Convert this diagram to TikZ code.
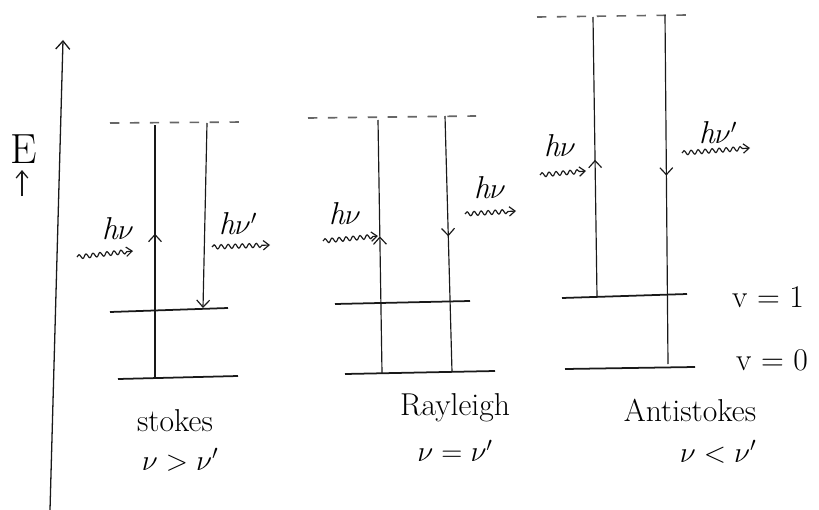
\documentclass[tikz,border=0pt]{standalone}
\usetikzlibrary{arrows.meta,decorations.pathmorphing,decorations.markings}
\begin{document}
\begin{tikzpicture}[x=0.03cm,y=-0.03cm,
  ink/.style={draw=black!90},
  level/.style={ink,line width=1.5pt},
  virt/.style={draw=black!60,line width=1.4pt,dash pattern=on 8pt off 9pt},
  trans/.style={ink,line width=1pt},
  upmark/.style={postaction={decorate},decoration={markings,mark=at position #1 with {\arrow{Straight Barb[length=6pt,width=11pt,line width=1pt]}}}},
  wavy/.style={ink,line width=1pt,-{Straight Barb[length=5pt,width=8pt]},decorate,decoration={snake,segment length=6pt,amplitude=1.8pt,post length=4pt}},
  lab/.style={font=\fontsize{27}{32}\selectfont,inner sep=0pt},
  hv/.style={font=\fontsize{27}{32}\selectfont\itshape,inner sep=0pt}]
\useasboundingbox (0,0) rectangle (819,510);
% axis
\coordinate (ax0) at (50,510);
\coordinate (ax1) at (63,40);
\draw[ink,line width=1.1pt,-{Straight Barb[length=7pt,width=12pt]}] (ax0) -- (ax1);
\node[font=\fontsize{36}{40}\selectfont,inner sep=0pt] (E) at (24,149) {E};
\coordinate (e0) at (22,196);
\coordinate (e1) at (22,170);
\draw[ink,line width=1.1pt,-{Straight Barb[length=6pt,width=10pt]}] (e0) -- (e1);

% ---------- Stokes ----------
\coordinate (s-d0) at (110,123); \coordinate (s-d1) at (245,122);
\coordinate (s-a0) at (110,312); \coordinate (s-a1) at (228,308);
\coordinate (s-g0) at (118,379); \coordinate (s-g1) at (238,376);
\draw[virt] (s-d0) -- (s-d1);
\draw[level] (s-a0) -- (s-a1);
\draw[level] (s-g0) -- (s-g1);
\coordinate (s-u0) at (155,378); \coordinate (s-u1) at (155,125);
\draw[trans,upmark=0.57] (s-u0) -- (s-u1);
\coordinate (s-w0) at (207,123); \coordinate (s-w1) at (203,308);
\draw[trans,-{Straight Barb[length=6pt,width=11pt,line width=1pt]}] (s-w0) -- (s-w1);
\node[hv] (s-hv) at (118,229) {h$\nu$};
\coordinate (s-i0) at (77,257); \coordinate (s-i1) at (133,251);
\draw[wavy] (s-i0) -- (s-i1);
\node[hv] (s-hv2) at (238,224) {h$\nu'$};
\coordinate (s-o0) at (212,247); \coordinate (s-o1) at (270,245);
\draw[wavy] (s-o0) -- (s-o1);
\node[lab] (s-name) at (175,421) {stokes};
\node[lab] (s-cond) at (180,460) {$\nu > \nu'$};

% ---------- Rayleigh ----------
\coordinate (r-d0) at (308,118); \coordinate (r-d1) at (476,116);
\coordinate (r-a0) at (335,304); \coordinate (r-a1) at (470,301);
\coordinate (r-g0) at (345,374); \coordinate (r-g1) at (495,371);
\draw[virt] (r-d0) -- (r-d1);
\draw[level] (r-a0) -- (r-a1);
\draw[level] (r-g0) -- (r-g1);
\coordinate (r-u0) at (382,373); \coordinate (r-u1) at (378,120);
\draw[trans,upmark=0.54] (r-u0) -- (r-u1);
\coordinate (r-w0) at (445,116); \coordinate (r-w1) at (452,372);
\draw[trans,upmark=0.47] (r-w0) -- (r-w1);
\node[hv] (r-hv) at (345,214) {h$\nu$};
\coordinate (r-i0) at (323,241); \coordinate (r-i1) at (378,236);
\draw[wavy] (r-i0) -- (r-i1);
\node[hv] (r-hv2) at (490,188) {h$\nu$};
\coordinate (r-o0) at (465,214); \coordinate (r-o1) at (516,211);
\draw[wavy] (r-o0) -- (r-o1);
\node[lab] (r-name) at (455,408) {Rayleigh};
\node[lab] (r-cond) at (455,451) {$\nu = \nu'$};

% ---------- Anti-Stokes ----------
\coordinate (a-d0) at (537,17); \coordinate (a-d1) at (688,15);
\coordinate (a-a0) at (562,298); \coordinate (a-a1) at (687,294);
\coordinate (a-g0) at (565,369); \coordinate (a-g1) at (695,367);
\draw[virt] (a-d0) -- (a-d1);
\draw[level] (a-a0) -- (a-a1);
\draw[level] (a-g0) -- (a-g1);
\coordinate (a-u0) at (597,297); \coordinate (a-u1) at (593,17);
\draw[trans,upmark=0.49] (a-u0) -- (a-u1);
\coordinate (a-w0) at (665,15); \coordinate (a-w1) at (668,364);
\draw[trans,upmark=0.46] (a-w0) -- (a-w1);
\node[hv] (a-hv) at (560,146) {h$\nu$};
\coordinate (a-i0) at (540,175); \coordinate (a-i1) at (586,171);
\draw[wavy] (a-i0) -- (a-i1);
\node[hv] (a-hv2) at (718,133) {h$\nu'$};
\coordinate (a-o0) at (682,153); \coordinate (a-o1) at (750,148);
\draw[wavy] (a-o0) -- (a-o1);
\node[lab] (a-name) at (690,410) {Antistokes};
\node[lab] (a-cond) at (718,452) {$\nu < \nu'$};
\node[lab] (v1) at (768,297) {v = 1};
\node[lab] (v0) at (772,360) {v = 0};
\end{tikzpicture}
\end{document}
